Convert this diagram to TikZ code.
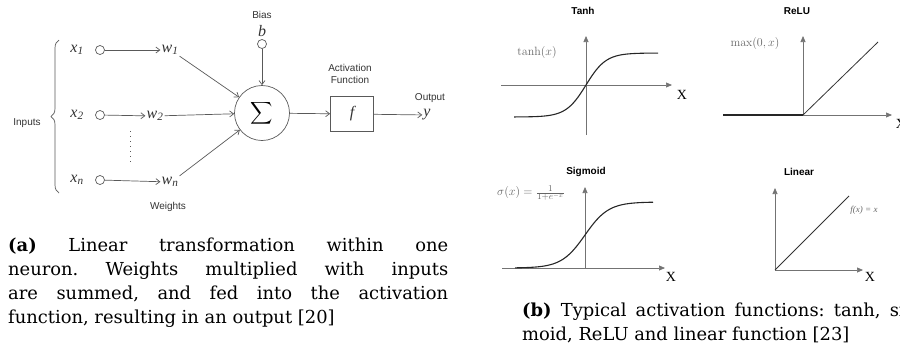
\documentclass[tikz,border=0pt]{standalone}
\usepackage[no-math]{fontspec}
\newfontfamily\lblfont{Liberation Sans}
\newfontfamily\varfont{Liberation Serif}
\newfontfamily\capfont{DejaVu Serif}
\usetikzlibrary{arrows.meta,positioning,calc,decorations.pathreplacing}

\newcommand{\invar}[2]{#1\textsubscript{#2}}

\tikzset{
  wire/.style={draw=black!65, line width=0.7pt, -{Straight Barb[length=4pt,width=6pt]}},
  inport/.style={circle, draw=black!65, line width=0.7pt, minimum size=9pt, inner sep=0pt},
  lbl/.style={text=black!80, font=\lblfont\fontsize{10}{12}\selectfont, inner sep=0pt, align=center},
  var/.style={text=black!80, font=\varfont\itshape\fontsize{16}{16}\selectfont, inner sep=1pt},
  ttl/.style={font=\lblfont\bfseries\fontsize{10}{12}\selectfont, inner sep=0pt},
  axis/.style={draw=black!55, line width=0.7pt, -{Triangle[length=6pt,width=5pt]}},
  curve/.style={draw=black!85, line width=1.1pt},
  fnlbl/.style={text=black!60, font=\fontsize{12.5}{14}\selectfont, inner sep=0pt},
  xlbl/.style={font=\varfont\fontsize{14}{14}\selectfont, inner sep=0pt},
  caption/.style={font=\capfont\fontsize{17.9}{24}\selectfont\frenchspacing, text width=440pt, align=justify, anchor=north west, inner sep=0pt},
}

\begin{document}
\begin{tikzpicture}[x=1pt,y=-1pt]
  \useasboundingbox (0,0) rectangle (900,360);
  \clip (0,0) rectangle (900,360);

  % neuron
  \node[var] (x1) at (77,50) {\invar{x}{1}};
  \node[var] (x2) at (77,115) {\invar{x}{2}};
  \node[var] (xn) at (77,180) {\invar{x}{n}};
  \node[inport] (in1) at (100,50) {};
  \node[inport] (in2) at (100,115) {};
  \node[inport] (inn) at (100,180) {};
  \node[var] (w1) at (170,50) {\invar{w}{1}};
  \node[var] (w2) at (155,116) {\invar{w}{2}};
  \node[var] (wn) at (170,182) {\invar{w}{n}};
  \node[circle, draw=black!65, line width=0.7pt, minimum size=55pt, inner sep=0pt] (sum) at (262,113)
    {\scalebox{1.55}{$\displaystyle\sum$}};
  \node[var] (bias) at (262,31) {b};
  \node[inport] (bport) at (262,44) {};
  \node[draw=black!65, line width=0.7pt, minimum width=43pt, minimum height=35pt, var] (act) at (352,114) {f};
  \node[var] (out) at (427,115) {y};

  \node[lbl] (inputs) at (27,123) {Inputs};
  \node[lbl] (weights) at (168,207) {Weights};
  \node[lbl] (biaslbl) at (262,15) {Bias};
  \node[lbl] (actlbl) at (350,74) {Activation\\Function};
  \node[lbl] (outlbl) at (430,98) {Output};

  \draw[wire] (in1) -- (w1);
  \draw[wire] (in2) -- (w2);
  \draw[wire] (inn) -- (wn);
  \draw[wire] (w1.south east) -- (sum);
  \draw[wire] (w2) -- (sum);
  \draw[wire] (wn.north east) -- (sum);
  \draw[wire] (bport) -- (sum);
  \draw[wire] (sum) -- (act);
  \draw[wire] (act) -- (out);
  \draw[black!65, line width=1pt, dash pattern=on 1pt off 4pt] (130,131) -- (130,163);
  \draw[black!65, line width=0.7pt, decorate, decoration={brace, amplitude=8pt}] (59,193) -- (59,40);

  % activation functions
  \node[ttl] (tanhttl) at (583,11) {Tanh};
  \node[ttl] (reluttl) at (797,11) {ReLU};
  \node[ttl] (sigttl) at (586,172) {Sigmoid};
  \node[ttl] (linttl) at (799,172) {Linear};

  % tanh
  \draw[axis] (586,135) -- (586,36);
  \draw[axis] (501,85) -- (672,85);
  \draw[curve] plot[domain=-72:72, samples=80] ({586+\x},{85-32*tanh(0.05*\x)});
  \node[fnlbl] (tanhlbl) at (537,52) {$\tanh(x)$};
  \node[xlbl] (tanhx) at (682,95) {X};

  % relu
  \draw[axis] (803,115) -- (803,36);
  \draw[axis] (723,115) -- (892,115);
  \draw[curve] (723,115) -- (803,115);
  \draw[black!80, line width=0.8pt] (803,115) -- (878,42);
  \node[fnlbl] (relulbl) at (755,43) {$\max(0,x)$};
  \node[xlbl] (relux) at (901,124) {X};

  % sigmoid
  \draw[axis] (585,268) -- (585,187);
  \draw[axis] (502,268) -- (665,268);
  \draw[curve] plot[domain=-70:68, samples=80] ({585+\x},{268-66/(1+exp(-0.085*\x))});
  \node[fnlbl] (siglbl) at (531,193) {$\sigma(x)=\frac{1}{1+e^{-x}}$};
  \node[xlbl] (sigx) at (671,277) {X};

  % linear
  \draw[axis] (775,270) -- (775,188);
  \draw[axis] (775,270) -- (863,270);
  \draw[black!80, line width=0.8pt] (775,270) -- (849,196);
  \node[text=black!60, font=\varfont\itshape\fontsize{9}{9}\selectfont, inner sep=0pt] (linlbl) at (864,210) {f(x) = x};
  \node[xlbl] (linx) at (870,277) {X};

  % captions
  \node[caption] (capa) at (8,238) {\textbf{(a)} Linear transformation within one\linebreak
    neuron. Weights multiplied with inputs\linebreak
    are summed, and fed into the activation\linebreak
    function, resulting in an output [20]};
  \node[caption, text width=400pt] (capb) at (522,303) {\textbf{(b)} Typical activation functions: tanh, sig-\linebreak
    moid, ReLU and linear function [23]};
\end{tikzpicture}
\end{document}
